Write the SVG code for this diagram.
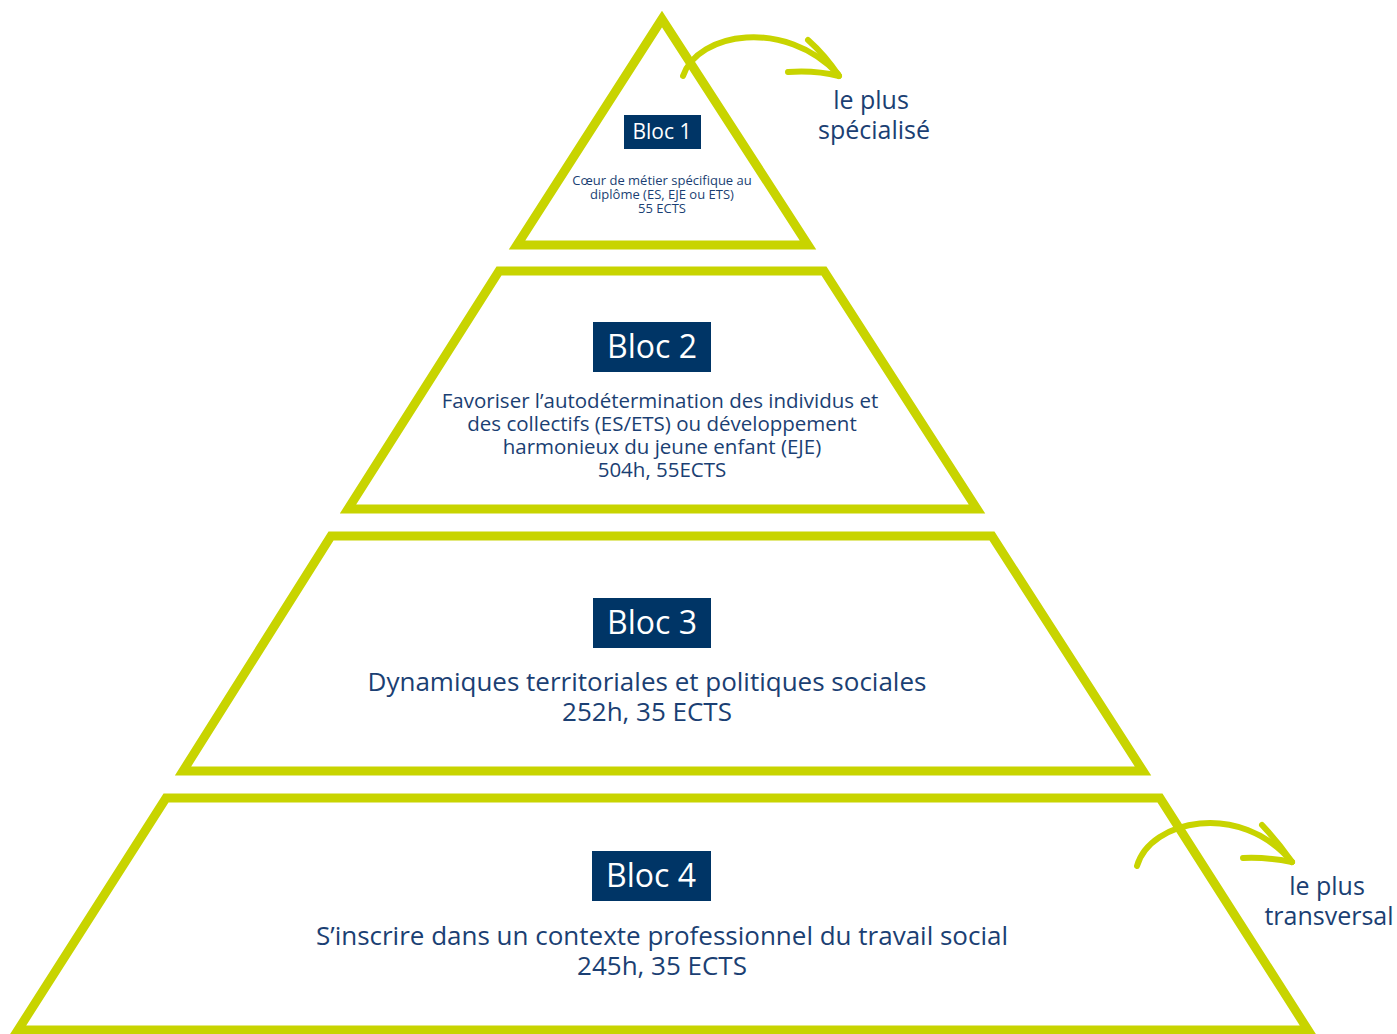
<svg xmlns="http://www.w3.org/2000/svg" width="1397" height="1034" viewBox="0 0 1397 1034">
<style>
.tier{fill:#ffffff;stroke:#c8d400;stroke-width:9;stroke-linejoin:miter}
.box{fill:#003566}
.bt{font-family:"Open Sans",Lato,sans-serif;fill:#ffffff;text-anchor:middle;font-variant-ligatures:none}
.tx{font-family:"Open Sans",Lato,sans-serif;fill:#1b3f73;text-anchor:middle;font-variant-ligatures:none}
.arc{fill:none;stroke:#c8d400;stroke-width:6;stroke-linecap:round}
</style>
<rect width="1397" height="1034" fill="#ffffff"/>
<g id="bloc1">
<polygon class="tier" points="662,19 517,245 808,245"/>
<rect class="box" x="624" y="115" width="77" height="34"/>
<text class="bt" x="662" y="139" font-size="21">Bloc 1</text>
<text class="tx" x="662" y="185" font-size="13">Cœur de métier spécifique au</text>
<text class="tx" x="662" y="199" font-size="13">diplôme (ES, EJE ou ETS)</text>
<text class="tx" x="662" y="213" font-size="13">55 ECTS</text>
</g>
<g id="bloc2">
<polygon class="tier" points="499,271 824,271 977,509 348,509"/>
<rect class="box" x="593" y="322" width="118" height="50"/>
<text class="bt" x="652" y="358" font-size="32">Bloc 2</text>
<text class="tx" x="660" y="408" font-size="20.5">Favoriser l’autodétermination des individus et</text>
<text class="tx" x="662" y="431" font-size="20.5">des collectifs (ES/ETS) ou développement</text>
<text class="tx" x="662" y="454" font-size="20.5">harmonieux du jeune enfant (EJE)</text>
<text class="tx" x="662" y="477" font-size="20.5">504h, 55ECTS</text>
</g>
<g id="bloc3">
<polygon class="tier" points="331,536 992,536 1143,771 183,771"/>
<rect class="box" x="593" y="598" width="118" height="50"/>
<text class="bt" x="652" y="634" font-size="32">Bloc 3</text>
<text class="tx" x="647" y="691" font-size="26">Dynamiques territoriales et politiques sociales</text>
<text class="tx" x="647" y="721" font-size="26">252h, 35 ECTS</text>
</g>
<g id="bloc4">
<polygon class="tier" points="166,798 1160,798 1308,1030 18,1030"/>
<rect class="box" x="592" y="851" width="119" height="50"/>
<text class="bt" x="651" y="887" font-size="32">Bloc 4</text>
<text class="tx" x="662" y="945" font-size="26">S’inscrire dans un contexte professionnel du travail social</text>
<text class="tx" x="662" y="975" font-size="26">245h, 35 ECTS</text>
</g>
<g id="connectors">
<path class="arc" d="M683,76 C698,32 785,18 838,74"/>
<path class="arc" d="M808,40 Q825,55 839,76"/>
<path class="arc" d="M788,72 Q815,70 839,76"/>
<path class="arc" d="M1137,866 C1150,820 1240,800 1292,862"/>
<path class="arc" d="M1262,825 Q1278,842 1292,862"/>
<path class="arc" d="M1243,858 Q1268,857 1292,862"/>
</g>
<g id="label-top">
<text class="tx" x="871" y="109" font-size="25">le plus</text>
<text class="tx" x="874" y="139" font-size="25">spécialisé</text>
</g>
<g id="label-bottom">
<text class="tx" x="1327" y="895" font-size="25">le plus</text>
<text class="tx" x="1329" y="925" font-size="25">transversal</text>
</g>
</svg>
